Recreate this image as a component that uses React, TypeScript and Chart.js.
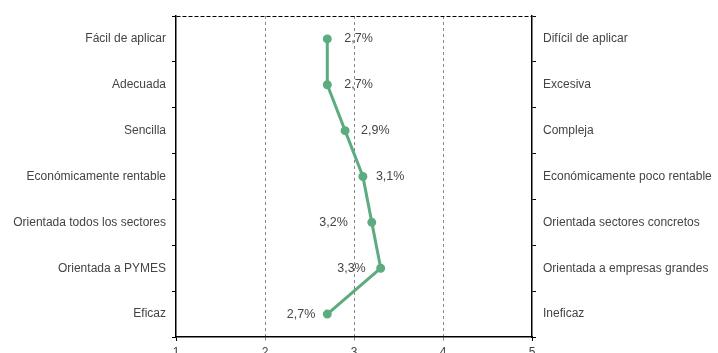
import React, { useEffect, useRef } from "react";
import { Chart, registerables } from "chart.js";

Chart.register(...registerables);

const leftLabels = [
  "Fácil de aplicar",
  "Adecuada",
  "Sencilla",
  "Económicamente rentable",
  "Orientada todos los sectores",
  "Orientada a PYMES",
  "Eficaz",
];
const rightLabels = [
  "Difícil de aplicar",
  "Excesiva",
  "Compleja",
  "Económicamente poco rentable",
  "Orientada sectores concretos",
  "Orientada a empresas grandes",
  "Ineficaz",
];
const values = [2.7, 2.7, 2.9, 3.1, 3.2, 3.3, 2.7];
const xTicks = [1, 2, 3, 4, 5];

const FONT = "'Liberation Sans', Arial, sans-serif";
const GREEN = "#5cac80";

const valueLabelPlugin = {
  id: "valueLabels",
  afterDatasetsDraw(chart: any, _args: any, opts: any) {
    const { ctx } = chart;
    const meta = chart.getDatasetMeta(0);
    const offsets: number[] = opts.offsets;
    ctx.save();
    ctx.font = `12.5px ${FONT}`;
    ctx.fillStyle = "#444";
    ctx.textBaseline = "middle";
    meta.data.forEach((pt: any, i: number) => {
      const v = values[i];
      const txt = v.toFixed(1).replace(".", ",") + "%";
      const off = offsets[i];
      ctx.textAlign = off >= 0 ? "left" : "right";
      ctx.fillText(txt, pt.x + off, pt.y);
    });
    ctx.restore();
  },
};

export default function App() {
  const ref = useRef<HTMLCanvasElement | null>(null);
  useEffect(() => {
    if (!ref.current) return;
    const chart = new Chart(ref.current, {
      type: "line",
      data: {
        labels: leftLabels,
        datasets: [
          {
            data: values,
            borderColor: GREEN,
            backgroundColor: GREEN,
            pointBackgroundColor: GREEN,
            pointBorderColor: GREEN,
            borderWidth: 3,
            pointRadius: 3,
            tension: 0,
            xAxisID: "x",
            yAxisID: "y",
          },
        ],
      },
      options: {
        indexAxis: "y",
        responsive: false,
        animation: false,
        layout: { padding: { top: 16, left: 0, right: 0, bottom: 0 } },
        plugins: {
          legend: { display: false },
          tooltip: { enabled: false },
          valueLabels: { offsets: [17, 17, 16, 13, -24, -15, -12] },
        } as any,
        scales: {
          x: {
            type: "linear",
            position: "bottom",
            min: 1,
            max: 5,
            afterBuildTicks: (s: any) => {
              s.ticks = xTicks.map((v) => ({ value: v }));
            },
            afterFit: (s: any) => {
              s.height = 16;
            },
            ticks: {
              font: { family: FONT, size: 12 },
              color: "#444",
              padding: 4,
              maxRotation: 0,
            },
            grid: {
              drawOnChartArea: true,
              drawTicks: true,
              tickLength: 4,
              color: (c: any) =>
                c.tick && c.tick.value > 1 && c.tick.value < 5 ? "#888" : "rgba(0,0,0,0)",
              tickColor: (c: any) =>
                c.tick && c.tick.value > 1 && c.tick.value < 5 ? "#888" : "#000",
              lineWidth: 1,
              tickBorderDash: (c: any) =>
                c.tick && c.tick.value > 1 && c.tick.value < 5 ? [3, 3] : [],
            },
            border: { display: true, color: "#000", width: 1.5, dash: [3, 3] },
          },
          y: {
            type: "category",
            position: "left",
            offset: true,
            afterFit: (s: any) => {
              s.width = 176;
            },
            ticks: {
              font: { family: FONT, size: 12 },
              color: "#444",
              padding: 6,
            },
            grid: {
              offset: true,
              drawOnChartArea: true,
              drawTicks: true,
              tickLength: 4,
              color: (c: any) => (c.index === 0 ? "#000" : "rgba(0,0,0,0)"),
              tickColor: "#000",
              lineWidth: 1,
            },
            border: { display: true, color: "#000", width: 1.5, dash: [4, 2] },
          },
          y2: {
            type: "category",
            position: "right",
            labels: rightLabels,
            offset: true,
            afterFit: (s: any) => {
              s.width = 186;
            },
            ticks: {
              font: { family: FONT, size: 12 },
              color: "#444",
              padding: 7,
            },
            grid: {
              offset: true,
              drawOnChartArea: false,
              drawTicks: true,
              tickLength: 4,
              tickColor: "#000",
            },
            border: { display: true, color: "#000", width: 1.5 },
          },
        } as any,
      },
      plugins: [valueLabelPlugin],
    });
    return () => chart.destroy();
  }, []);
  return (
    <div style={{ position: "fixed", left: 0, top: 0, width: 718, height: 353, background: "#fff" }}>
      <canvas ref={ref} width={718} height={353} style={{ display: "block" }} />
    </div>
  );
}
